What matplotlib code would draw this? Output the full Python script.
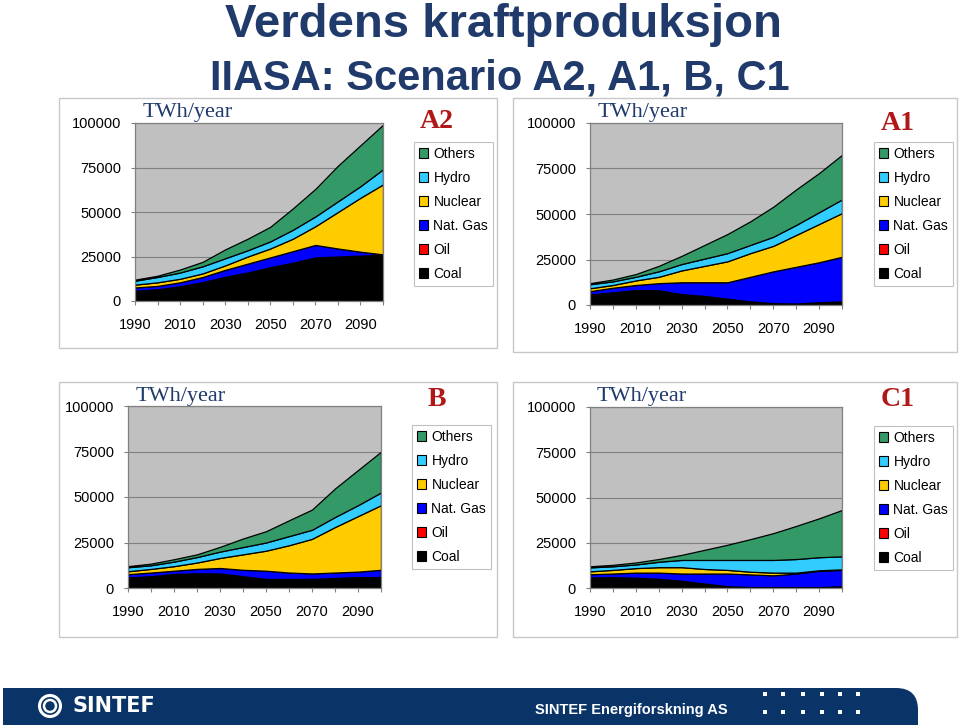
import matplotlib.pyplot as plt
from matplotlib.patches import Rectangle, Patch, PathPatch, Circle
from matplotlib.path import Path

# ---- data (TWh/year), stacked bottom -> top: Coal, Oil, Nat. Gas, Nuclear, Hydro, Others
years = ['1990', '2000', '2010', '2020', '2030', '2040', '2050', '2060', '2070', '2080', '2090', '2100']
sources = ['Coal', 'Oil', 'Nat. Gas', 'Nuclear', 'Hydro', 'Others']
colors = ['#000000', '#ff0000', '#0000ff', '#ffcc00', '#33ccff', '#339966']

a2_coal = [5000, 6000, 8000, 10500, 13500, 16000, 19000, 21500, 24500, 25000, 25500, 26000]
a2_oil = [800, 600, 300, 100, 100, 0, 0, 0, 0, 0, 0, 0]
a2_gas = [1800, 1900, 2200, 2900, 3900, 5000, 5500, 6500, 7000, 4500, 2200, 200]
a2_nuclear = [1600, 2000, 2000, 2000, 2500, 4000, 5000, 7000, 10500, 20500, 30300, 39300]
a2_hydro = [2200, 3000, 3500, 4000, 4000, 3500, 4000, 5000, 5500, 6000, 6500, 8500]
a2_others = [600, 700, 1700, 2500, 5000, 6500, 8200, 12000, 15500, 20000, 23000, 25000]

a1_coal = [5000, 6500, 8000, 8000, 6000, 5000, 3500, 2000, 1000, 800, 1500, 2000]
a1_oil = [800, 500, 200, 100, 0, 0, 0, 0, 0, 0, 0, 0]
a1_gas = [1800, 2500, 2800, 3900, 6500, 7500, 9000, 13500, 17500, 20200, 22000, 24500]
a1_nuclear = [1600, 1500, 2500, 3500, 6500, 9000, 11500, 13000, 14000, 17500, 21000, 24000]
a1_hydro = [2200, 2000, 2000, 3000, 3500, 4000, 4500, 4500, 5000, 5500, 6500, 7500]
a1_others = [600, 1000, 1500, 3000, 4500, 7500, 10500, 13000, 16500, 19500, 21500, 24500]

b_coal = [5000, 6000, 7500, 8000, 8000, 6500, 5000, 5000, 5000, 5500, 6000, 6000]
b_oil = [800, 500, 200, 100, 0, 0, 0, 0, 0, 0, 0, 0]
b_gas = [1800, 2000, 1800, 2400, 3000, 3500, 4500, 3500, 3000, 3000, 3000, 4000]
b_nuclear = [1600, 2000, 2500, 3500, 5500, 8500, 11000, 15000, 19000, 25000, 30500, 35500]
b_hydro = [2200, 2000, 2500, 3000, 3500, 4000, 4500, 5000, 5000, 5500, 6000, 7000]
b_others = [600, 900, 1300, 1500, 2600, 4700, 6200, 8700, 11100, 15700, 19300, 22400]

c1_coal = [5000, 5500, 5500, 5000, 4000, 2500, 1000, 500, 500, 500, 500, 1000]
c1_oil = [800, 500, 200, 100, 0, 0, 0, 0, 0, 0, 0, 0]
c1_gas = [1800, 2000, 2800, 3400, 4000, 5500, 7000, 7000, 6500, 7500, 9000, 9000]
c1_nuclear = [1600, 2000, 2500, 3000, 3500, 2500, 2000, 1500, 1500, 500, 300, 300]
c1_hydro = [2200, 2000, 2000, 3000, 4000, 5000, 5500, 6500, 7000, 7500, 7200, 7200]
c1_others = [600, 800, 1100, 1500, 2800, 5600, 8400, 11500, 14800, 18300, 21500, 25600]

NAVY = '#1f3a6b'
RED = '#b01818'
BAND = '#0a3468'
SANS = ['Liberation Sans', 'DejaVu Sans']
SERIF = ['Liberation Serif', 'DejaVu Serif']

W, H = 960, 726
fig = plt.figure(figsize=(W / 100, H / 100), dpi=100)

# background layer in pixel coords (y down)
bg = fig.add_axes([0, 0, 1, 1], zorder=0)
bg.set_xlim(0, W)
bg.set_ylim(H, 0)
bg.axis('off')

bg.text(503, 25, 'Verdens kraftproduksjon', ha='center', va='center',
        fontsize=34, fontweight='bold', color=NAVY, family=SANS)
bg.text(500, 78, 'IIASA: Scenario A2, A1, B, C1', ha='center', va='center',
        fontsize=30, fontweight='bold', color=NAVY, family=SANS)

# panel frames
for (x0, y0, x1, y1) in [(59, 98, 497, 348), (513, 98, 957, 352),
                         (59, 382, 497, 637), (513, 382, 957, 637)]:
    bg.add_patch(Rectangle((x0, y0), x1 - x0, y1 - y0, fill=False,
                           ec='#c8c8c8', lw=1))

# bottom band with rounded top-right corner
verts = [(3, 725), (3, 688), (896, 688), (918, 688), (918, 710), (918, 725), (3, 725)]
codes = [Path.MOVETO, Path.LINETO, Path.LINETO, Path.CURVE3, Path.CURVE3,
         Path.LINETO, Path.CLOSEPOLY]
bg.add_patch(PathPatch(Path(verts, codes), fc=BAND, ec='none'))
bg.add_patch(Circle((50, 706), 10.5, fill=False, ec='white', lw=2.2))
bg.add_patch(Circle((50, 706), 6, fill=False, ec='white', lw=1.8))
bg.text(72, 706, 'SINTEF', ha='left', va='center', fontsize=15,
        fontweight='bold', color='white', family=['DejaVu Sans'])
bg.text(535, 710, 'SINTEF Energiforskning AS', ha='left', va='center',
        fontsize=10.5, fontweight='bold', color='white', family=SANS)
for row in [694, 712]:
    for dx in [765, 783, 803, 822, 840, 858]:
        bg.add_patch(Rectangle((dx - 2, row - 2), 4, 4, fc='white', ec='none'))


def px_axes(x0, x1, ybot, ytop):
    return [x0 / W, 1 - ybot / H, (x1 - x0) / W, (ybot - ytop) / H]


def panel(rect, series, name, factor, name_xy, twh_xy, fac_xy, leg_xy):
    ax = fig.add_axes(rect, zorder=1)
    xs = list(range(len(years)))
    ax.stackplot(xs, *series, colors=colors, edgecolor='black', linewidth=0.9)
    ax.set_facecolor('#c0c0c0')
    ax.set_xlim(0, len(years) - 1)
    ax.set_ylim(0, 100000)
    ax.set_yticks([0, 25000, 50000, 75000, 100000])
    ax.set_yticklabels(['0', '25000', '50000', '75000', '100000'])
    ax.set_xticks(xs)
    ax.set_xticklabels([y if i % 2 == 0 else '' for i, y in enumerate(years)])
    ax.grid(axis='y', color='#808080', lw=0.8)
    ax.set_axisbelow(True)
    for s in ax.spines.values():
        s.set_color('#808080')
        s.set_linewidth(0.9)
    ax.tick_params(axis='y', length=3, pad=7, color='#808080', labelsize=10.5)
    ax.tick_params(axis='x', length=3, pad=9, color='#808080', labelsize=10.5)
    for lab in ax.get_xticklabels() + ax.get_yticklabels():
        lab.set_family(SANS)

    bg.text(twh_xy[0], twh_xy[1], 'TWh/year', ha='left', va='center',
            fontsize=16, color=NAVY, family=SERIF)
    bg.text(fac_xy[0], fac_xy[1], factor, ha='left', va='center',
            fontsize=20, color=NAVY, family=SANS)
    bg.text(name_xy[0], name_xy[1], name, ha='center', va='center',
            fontsize=20, fontweight='bold', color=RED, family=SERIF)

    handles = [Patch(fc=c, ec='black', lw=0.8, label=s)
               for s, c in zip(sources, colors)][::-1]
    leg = ax.legend(handles=handles, loc='upper left',
                    bbox_to_anchor=(leg_xy[0] / W, 1 - leg_xy[1] / H),
                    bbox_transform=fig.transFigure, borderaxespad=0,
                    prop={'family': SANS, 'size': 10}, frameon=True,
                    fancybox=False, edgecolor='#c0c0c0', framealpha=1,
                    borderpad=0.35, handlelength=0.65, handleheight=0.65,
                    handletextpad=0.4, labelspacing=0.72)
    leg.get_frame().set_linewidth(0.8)
    return ax


panel(px_axes(135, 383, 301, 123),
      [a2_coal, a2_oil, a2_gas, a2_nuclear, a2_hydro, a2_others],
      'A2', 'x7', (437, 122), (143, 113), (153, 192), (414, 142))
panel(px_axes(590, 842, 305, 123),
      [a1_coal, a1_oil, a1_gas, a1_nuclear, a1_hydro, a1_others],
      'A1', 'x6', (898, 123), (598, 113), (610, 193), (874, 142))
panel(px_axes(128, 381, 588, 406),
      [b_coal, b_oil, b_gas, b_nuclear, b_hydro, b_others],
      'B', 'x5', (437, 400), (136, 396), (143, 477), (412, 425))
panel(px_axes(590, 842, 588, 407),
      [c1_coal, c1_oil, c1_gas, c1_nuclear, c1_hydro, c1_others],
      'C1', 'x3', (898, 400), (597, 397), (610, 477), (874, 426))

fig.savefig('out.png', dpi=100)
